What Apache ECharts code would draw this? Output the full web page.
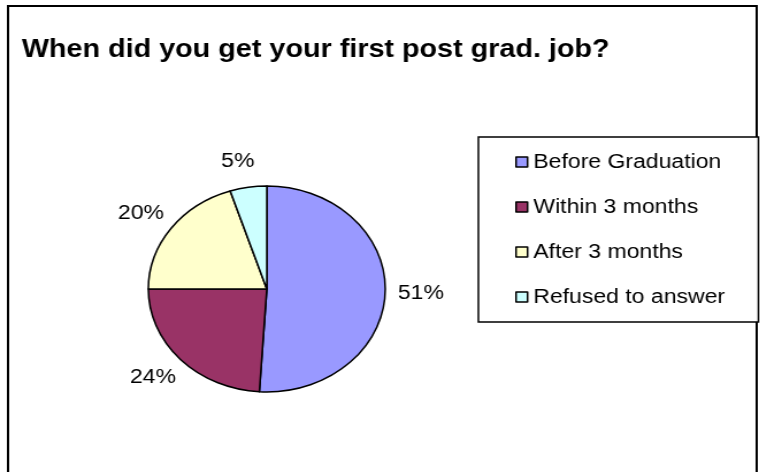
<!DOCTYPE html>
<html>
<head>
<meta charset="utf-8">
<script src="https://cdn.jsdelivr.net/npm/echarts@6/dist/echarts.min.js"></script>
<style>
  html, body { margin: 0; padding: 0; background: #fff; overflow: hidden; }
  #wrap { width: 760px; height: 472px; overflow: hidden; }
  /* the reference is stretched sideways (the pie is an ellipse), so the chart is drawn narrower and widened */
  #main { width: 661px; height: 472px; transform: scaleX(1.15); transform-origin: 0 0; }
</style>
</head>
<body>
<div id="wrap"><div id="main"></div></div>
<script>
const categories = ['Before Graduation', 'Within 3 months', 'After 3 months', 'Refused to answer']
const shares = [51, 24, 20, 5]
const colors = ['#9999FF', '#993366', '#FFFFCC', '#CCFFFF']

const font = 'Liberation Sans, Arial, sans-serif'
const pieCenter = [232, 289]
const main = document.getElementById('main')
let myChart = echarts.init(main, null, { renderer: 'canvas' })

// excel centres the percent labels on the spot just outside each slice,
// echarts hangs them off that spot, so move them back half their width
function centreLabel(params) {
  const r = params.labelRect
  if (!r) return {}
  const onRight = r.x + r.width / 2 > pieCenter[0]
  const anchor = onRight ? r.x : r.x + r.width
  return { x: anchor, y: r.y + r.height / 2, align: 'center', verticalAlign: 'middle' }
}

myChart.setOption({
  animation: false,
  backgroundColor: '#fff',
  title: {
    text: 'When did you get your first post grad. job?',
    left: 19,
    top: 38,
    padding: 0,
    textStyle: { fontFamily: font, fontSize: 25, fontWeight: 'bold', color: '#000' }
  },
  graphic: [
    {
      type: 'rect',
      shape: { x: 7, y: 6, width: 651, height: 480 },
      style: { fill: 'none', stroke: '#000', lineWidth: 2 },
      z: 0
    }
  ],
  legend: {
    orient: 'vertical',
    left: 416,
    top: 137,
    padding: [15, 29, 15, 32],
    itemGap: 25,
    itemWidth: 10,
    itemHeight: 10,
    icon: 'rect',
    backgroundColor: '#fff',
    borderColor: '#000',
    borderWidth: 1.5,
    borderRadius: 0,
    selectedMode: false,
    itemStyle: { borderColor: '#000', borderWidth: 1.5 },
    textStyle: { fontFamily: font, fontSize: 20, color: '#000', lineHeight: 20 },
    data: categories
  },
  series: [
    {
      type: 'pie',
      center: pieCenter,
      radius: 103,
      startAngle: 90,
      clockwise: true,
      avoidLabelOverlap: false,
      color: colors,
      itemStyle: { borderColor: '#000', borderWidth: 1.5 },
      label: {
        show: true,
        position: 'outside',
        formatter: '{c}%',
        fontFamily: font,
        fontSize: 20,
        color: '#000'
      },
      labelLine: { show: false, length: 26, length2: 0 },
      labelLayout: centreLabel,
      emphasis: { disabled: true },
      data: categories.map((name, i) => ({ name: name, value: shares[i] }))
    }
  ]
})
</script>
</body>
</html>
